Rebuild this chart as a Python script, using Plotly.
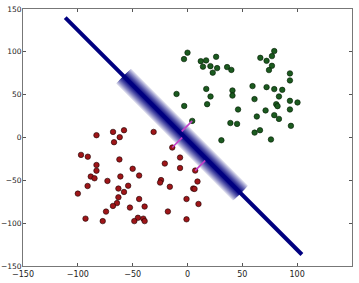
import plotly.graph_objects as go
import numpy as np

# ---- data ----
green_x = [0, -3.2, 12.1, 17.0, 26.1, 14.1, 20.9, 27.0, 23.0, 36.1, 40.0, -10.0, 17.1, 21.0, 41.0, 41.0,
           -3.0, 17.9, 46.1, 39.1, 45.2, 4.3, 30.9, 79.1, 77.0, 66.4, 72.1, 77.0, 74.3, 93.4, 93.4, 59.3,
           72.1, 79.1, 86.4, 83.4, 61.1, 93.4, 100.3, 80.9, 82.1, 93.4, 71.2, 63.2, 79.1, 83.4, 94.3, 66.1,
           61.2, 76.1]
green_y = [99, 91.5, 89.1, 90.0, 94.2, 82.7, 83.3, 81.0, 75.7, 82.2, 78.9, 50.8, 56.7, 47.9, 54.9, 48.9,
           36.8, 38.9, 32.7, 16.9, 15.9, 19.4, -3.2, 100.9, 95.0, 93.0, 89.5, 83.7, 78.7, 74.8, 66.6, 60.0,
           58.8, 56.5, 55.6, 47.9, 44.8, 42.8, 40.9, 38.9, 36.6, 32.7, 31.6, 24.5, 26.1, 21.7, 13.6, 8.5,
           5.7, -2.3]
red_x = [-83.0, -67.9, -57.9, -61.8, -67.0, -30.9, -97.1, -90.9, -62.1, -83.0, -83.0, -88.2, -84.8, -61.2,
         -50.0, -44.1, -73.0, -54.1, -91.1, -63.0, -57.9, -100.0, -63.0, -44.1, -64.3, -68.0, -52.5, -39.1,
         -74.3, -93.0, -77.3, -45.2, -48.5, -40.3, -39.1, -20.7, -24.1, -25.0, -16.1, -17.9, -13.9, -6.8,
         -6.8, 7.0, 9.1, 5.2, 6.4, -0.9, 10.0, -0.9]
red_y = [2.7, 6.5, 8.5, 0.4, -5.5, 6.5, -20.3, -22.4, -25.6, -32.1, -38.8, -45.6, -47.6, -45.5,
         -36.5, -44.4, -50.7, -56.3, -56.6, -59.6, -63.6, -65.5, -69.8, -71.8, -76.6, -79.9, -81.8, -80.6,
         -86.5, -94.7, -97.6, -93.7, -97.6, -94.7, -97.6, -30.4, -49.7, -52.6, -57.5, -86.4, -11.7, -23.4,
         -35.6, -38.6, -51.4, -59.6, -60.0, -71.8, -77.6, -95.5]

# separating line: y = slope * x + intercept
line_slope = -1.281
line_intercept = -3.0
line_x = [-111.5, 104.3]
band_x = [-58.2, 48.2]

# points joined to the line (slack segments)
sv_x = [4.3, -13.9, 7.0]
sv_y = [19.4, -11.7, -38.6]

tick_vals = [-150, -100, -50, 0, 50, 100, 150]

# ---- layout geometry ----
W, H = 359, 283
ML, MR, MT, MB = 23, 7, 9, 17
kx = (W - ML - MR) / 300.0
ky = (H - MT - MB) / 300.0

NAVY = (0, 0, 128)

fig = go.Figure()

fig.add_trace(go.Scatter(x=red_x, y=red_y, mode='markers',
                         marker=dict(size=5.5, color='#9e1518', line=dict(color='#1a0000', width=0.6)),
                         showlegend=False, hoverinfo='skip'))
fig.add_trace(go.Scatter(x=green_x, y=green_y, mode='markers',
                         marker=dict(size=5.5, color='#1b5a1f', line=dict(color='#001a00', width=0.6)),
                         showlegend=False, hoverinfo='skip'))

# band geometry (pixel-space perpendicular)
def yline(x):
    return line_slope * x + line_intercept

u = np.array([kx, ky * line_slope])
u = u / np.linalg.norm(u)
n = np.array([-u[1], u[0]])
bx0, bx1 = band_x
A = np.array([bx0, yline(bx0)])
B = np.array([bx1, yline(bx1)])
HALF = 10.5
N = 40
for i in range(N, 0, -1):
    h = HALF * i / N
    t = (i - 0.5) / N
    lt = (min(t, 1.0) ** 1.3) * 0.92
    col = tuple(int(round(NAVY[j] + (255 - NAVY[j]) * lt)) for j in range(3))
    off = np.array([h * n[0] / kx, h * n[1] / ky])
    pts = [A + off, B + off, B - off, A - off, A + off]
    fig.add_trace(go.Scatter(x=[p[0] for p in pts], y=[p[1] for p in pts], mode='lines',
                             fill='toself', fillcolor='rgb(%d,%d,%d)' % col,
                             line=dict(width=0), showlegend=False, hoverinfo='skip'))

# slack segments: projection onto the line in pixel space
for sx, sy in zip(sv_x, sv_y):
    P = np.array([sx * kx, sy * ky])
    A0 = np.array([0.0, line_intercept * ky])
    foot = A0 + np.dot(P - A0, u) * u
    fx, fy = foot[0] / kx, foot[1] / ky
    fig.add_trace(go.Scatter(x=[sx, fx], y=[sy, fy], mode='lines',
                             line=dict(color='#c53fc8', width=1.6),
                             showlegend=False, hoverinfo='skip'))

fig.add_trace(go.Scatter(x=line_x, y=[yline(v) for v in line_x], mode='lines',
                         line=dict(color='#000080', width=4),
                         showlegend=False, hoverinfo='skip'))

axis_common = dict(range=[-150, 150], tickvals=tick_vals, ticks='inside', ticklen=3,
                   tickcolor='#555', showline=True, linecolor='#777', linewidth=1,
                   mirror='ticks', showgrid=False, zeroline=False, automargin=False)
fig.update_layout(width=W, height=H, margin=dict(l=ML, r=MR, t=MT, b=MB, autoexpand=False),
                  paper_bgcolor='white', plot_bgcolor='white',
                  xaxis=dict(axis_common, tickfont=dict(family='DejaVu Sans', size=8, color='#222')),
                  yaxis=dict(axis_common, ticklabelstandoff=-1,
                             tickfont=dict(family='DejaVu Sans', size=7.5, color='#222')),
                  showlegend=False)

fig.write_html("out.html")
